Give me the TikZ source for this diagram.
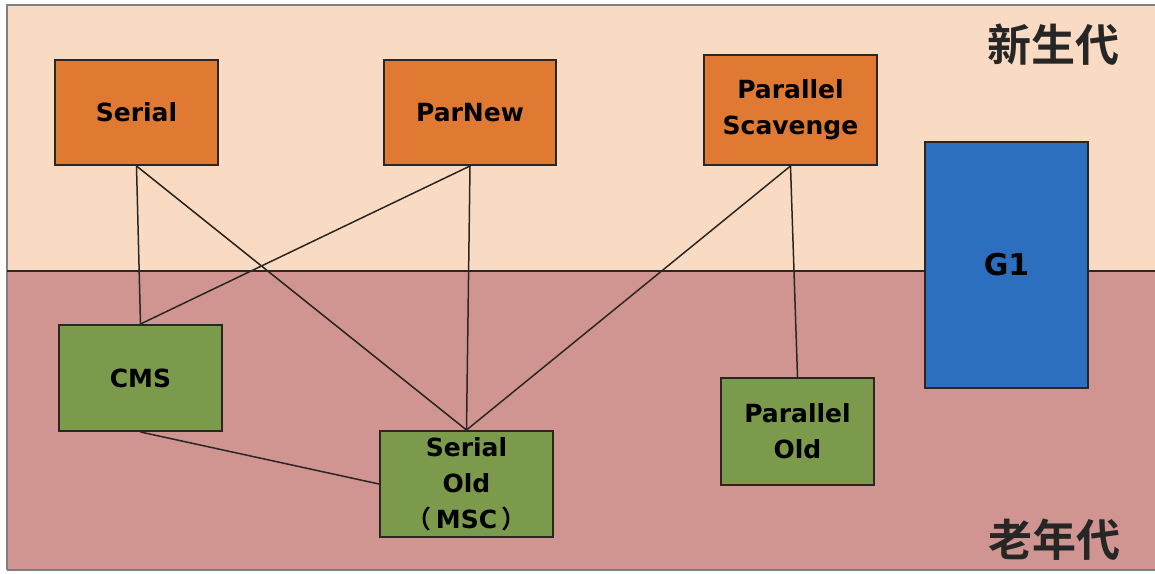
\documentclass[tikz,border=0pt]{standalone}
\usepackage{fontspec}
\setmainfont{DejaVu Sans}
\newfontfamily\cjk{Noto Sans CJK SC}[BoldFont={Noto Sans CJK SC Bold}]
\usepackage{xcolor}
\usetikzlibrary{positioning}

\definecolor{younggen}{HTML}{F8DBC2}
\definecolor{oldgen}{HTML}{D09590}
\definecolor{newcol}{HTML}{E07A32}
\definecolor{oldcol}{HTML}{7C9A4B}
\definecolor{gonecol}{HTML}{2D6FBF}
\definecolor{edgecol}{HTML}{2B2623}

\begin{document}
\begin{tikzpicture}[
                x=0.5pt, y=-0.5pt,
                gc/.style={rectangle, draw=edgecol, line width=1pt, align=center,
                    font=\bfseries\fontsize{12.5}{18}\selectfont, inner sep=0pt},
                young/.style={gc, fill=newcol},
                tenured/.style={gc, fill=oldcol},
                both/.style={gc, fill=gonecol, font=\bfseries\fontsize{15}{18}\selectfont},
                link/.style={draw=edgecol, line width=0.75pt},
                gen/.style={font=\cjk\bfseries\fontsize{22}{24}\selectfont, text=black!85}
            ]
                \useasboundingbox (0,0) rectangle (1155,573);

                % Generations
                \fill[younggen] (7,5) rectangle (1160,271);
                \fill[oldgen] (7,271) rectangle (1160,570);
                \draw[gray, line width=0.8pt] (7,570) -- (7,5) -- (1160,5);
                \draw[gray, line width=0.8pt] (7,570) -- (1160,570);
                \draw[edgecol, line width=1pt] (7,271) -- (1160,271);
                \node[gen] (NEW) at (1053,45) {新生代};
                \node[gen] (OLD) at (1054,540) {老年代};

                % Young collectors
                \node[young, minimum width=81.5pt, minimum height=52.5pt] (SER) at (136.5,112.5) {Serial};
                \node[young, minimum width=86pt, minimum height=52.5pt] (PN) at (470,112.5) {ParNew};
                \node[young, minimum width=86.5pt, minimum height=55pt] (PS) at (790.5,110) {Parallel\\Scavenge};

                % Old collectors
                \node[tenured, minimum width=81.5pt, minimum height=53pt] (CMS) at (140.5,378) {CMS};
                \node[tenured, minimum width=86.5pt, minimum height=53pt] (SO) at (466.5,484) {Serial\\Old\\{\cjk （}\,MSC\,{\cjk ）}};
                \node[tenured, minimum width=76.5pt, minimum height=53.5pt] (PO) at (797.5,431.5) {Parallel\\Old};

                % Whole heap
                \node[both, minimum width=81.5pt, minimum height=123pt] (G1) at (1006.5,265) {G1};

                % Pairings
                \path[link]
                    (SER.south) edge (CMS.north)
                    (SER.south) edge (SO.north)
                    (PN.south) edge (CMS.north)
                    (PN.south) edge (SO.north)
                    (PS.south) edge (SO.north)
                    (PS.south) edge (PO.north)
                    (CMS.south) edge (SO.west);
            \end{tikzpicture}
\end{document}
